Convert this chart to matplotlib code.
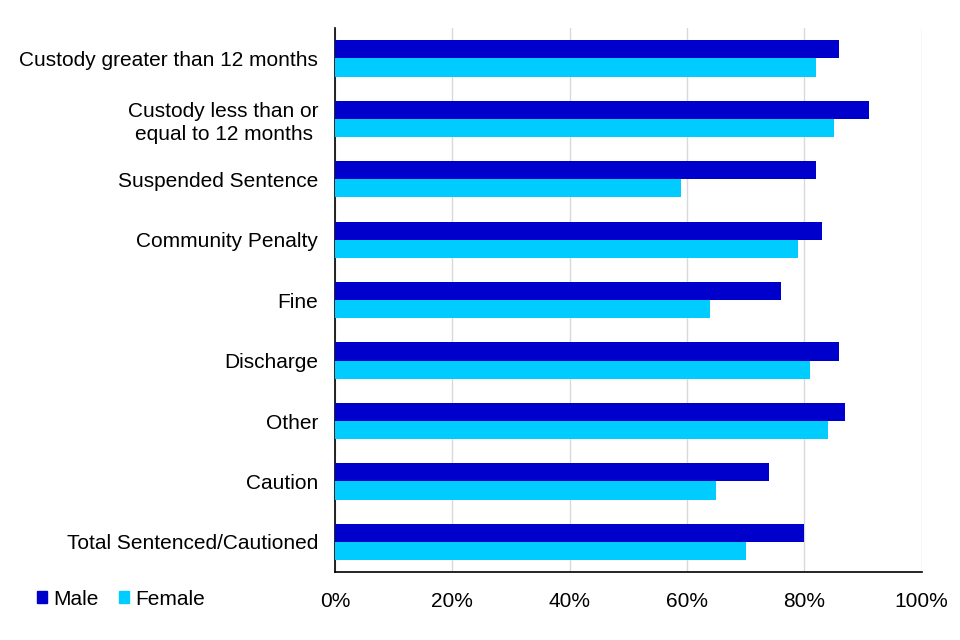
import numpy as np
import matplotlib.pyplot as plt
from matplotlib.patches import Patch

plt.rcParams["font.family"] = ["Liberation Sans", "DejaVu Sans"]

categories = [
    "Custody greater than 12 months",
    "Custody less than or\nequal to 12 months ",
    "Suspended Sentence",
    "Community Penalty",
    "Fine",
    "Discharge",
    "Other",
    "Caution",
    "Total Sentenced/Cautioned",
]
male = [86, 91, 82, 83, 76, 86, 87, 74, 80]
female = [82, 85, 59, 79, 64, 81, 84, 65, 70]

male_color = "#0000CC"
female_color = "#00CCFF"

fig = plt.figure(figsize=(9.6, 6.4), dpi=100)
ax = fig.add_axes([0.349, 0.106, 0.611, 0.850])

y = np.arange(len(categories))
h = 0.3
ax.barh(y - h / 2, male, height=h, color=male_color, label="Male", zorder=3)
ax.barh(y + h / 2, female, height=h, color=female_color, label="Female", zorder=3)

ax.set_ylim(len(categories) - 0.5, -0.5)
ax.set_yticks(y)
ax.set_yticklabels(categories, fontsize=15, linespacing=1.25)
ax.set_xlim(0, 100)
ax.set_xticks(range(0, 101, 20))
ax.set_xticklabels([f"{v}%" for v in range(0, 101, 20)], fontsize=15)
ax.tick_params(axis="y", length=0, pad=12)
ax.tick_params(axis="x", length=0, pad=14)
ax.grid(axis="x", color="#D9D9D9", linewidth=1, zorder=0)
for s in ["top", "right"]:
    ax.spines[s].set_visible(False)
ax.spines["left"].set_linewidth(1.2)
ax.spines["bottom"].set_linewidth(1.2)

handles = [Patch(color=male_color), Patch(color=female_color)]
fig.legend(handles, ["Male", "Female"], loc="center left", bbox_to_anchor=(0.019, 0.064),
           ncol=2, frameon=False, fontsize=15, handlelength=0.5, handleheight=0.5,
           handletextpad=0.3, columnspacing=0.95)

fig.savefig("out.png", dpi=100)
